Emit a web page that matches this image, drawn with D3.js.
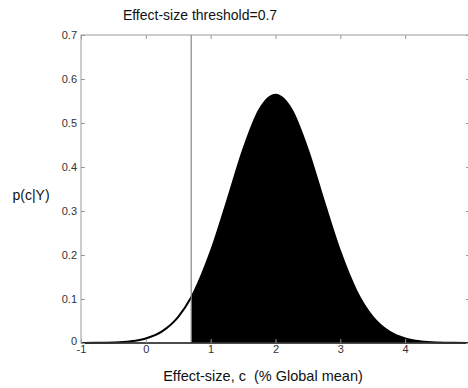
<!DOCTYPE html>
<html>
<head>
<meta charset="utf-8">
<script src="https://cdn.jsdelivr.net/npm/d3@7"></script>
<style>
  body { margin: 0; background: #fff; }
  text { font-family: "Liberation Sans", Arial, sans-serif; }
</style>
</head>
<body>
<div id="chart"></div>
<script>
// posterior density
const cValues = [-1, -0.75, -0.5, -0.25, 0, 0.25, 0.5, 0.7, 0.75, 1, 1.25, 1.5, 1.75, 2, 2.25, 2.5, 2.75, 3, 3.25, 3.5, 3.75, 4, 4.25, 4.5, 4.75, 5];
const density = [0.0001, 0.0003, 0.0011, 0.0036, 0.0103, 0.0264, 0.0594, 0.104, 0.118, 0.2075, 0.321, 0.439, 0.530, 0.564, 0.530, 0.439, 0.321, 0.2075, 0.118, 0.0594, 0.0264, 0.0103, 0.0036, 0.0011, 0.0003, 0.0001];
const threshold = 0.7;
const xTicks = [-1, 0, 1, 2, 3, 4];
const yTicks = [0, 0.1, 0.2, 0.3, 0.4, 0.5, 0.6, 0.7];

const width = 468, height = 388;
const margin = { left: 81, right: -2, top: 35, bottom: 45 };

const svg = d3.select("#chart").append("svg")
  .attr("width", width)
  .attr("height", height);

const x = d3.scaleLinear().domain([-1, 5]).range([margin.left, width - margin.right]);
const y = d3.scaleLinear().domain([0, 0.7]).range([height - margin.bottom, margin.top]);

const points = cValues.map((c, i) => ({ c, p: density[i] }));
const shaded = points.filter(d => d.c >= threshold);

// shaded tail above the threshold
svg.append("path")
  .datum(shaded)
  .attr("d", d3.area().x(d => x(d.c)).y0(y(0)).y1(d => y(d.p)).curve(d3.curveMonotoneX))
  .attr("fill", "#000");

svg.append("path")
  .datum(points)
  .attr("d", d3.line().x(d => x(d.c)).y(d => y(d.p)).curve(d3.curveMonotoneX))
  .attr("fill", "none")
  .attr("stroke", "#000")
  .attr("stroke-width", 2);

// threshold line
svg.append("line")
  .attr("x1", x(threshold)).attr("x2", x(threshold))
  .attr("y1", y(0.7)).attr("y2", y(0))
  .attr("stroke", "#888")
  .attr("stroke-width", 1.2);

// axes box
const axisColor = "#999";
svg.append("rect")
  .attr("x", x(-1)).attr("y", y(0.7))
  .attr("width", x(5) - x(-1)).attr("height", y(0) - y(0.7))
  .attr("fill", "none")
  .attr("stroke", axisColor);

svg.append("line")
  .attr("x1", x(-1)).attr("x2", x(5))
  .attr("y1", y(0)).attr("y2", y(0))
  .attr("stroke", "#222")
  .attr("stroke-width", 1.5);

const xAxis = svg.append("g")
  .attr("transform", `translate(0,${y(0)})`)
  .call(d3.axisBottom(x).tickValues(xTicks).tickSize(-4).tickPadding(2).tickFormat(d => String(d)));
const xAxisTop = svg.append("g")
  .attr("transform", `translate(0,${y(0.7)})`)
  .call(d3.axisTop(x).tickValues(xTicks).tickSize(-4).tickFormat(""));
const yAxis = svg.append("g")
  .attr("transform", `translate(${x(-1)},0)`)
  .call(d3.axisLeft(y).tickValues(yTicks).tickSize(-4).tickPadding(4).tickFormat(d => d === 0 ? "0" : d3.format(".1f")(d)));
const yAxisRight = svg.append("g")
  .attr("transform", `translate(${x(5)},0)`)
  .call(d3.axisRight(y).tickValues(yTicks).tickSize(-4).tickFormat(""));

[xAxis, xAxisTop, yAxis, yAxisRight].forEach(g => {
  g.select(".domain").remove();
  g.selectAll(".tick line").attr("stroke", axisColor);
  g.selectAll(".tick text").attr("fill", "#333").style("font-size", "11px");
});
xAxis.selectAll(".tick text").attr("dy", "0.75em");
yAxis.selectAll(".tick text").filter(d => d === 0).attr("dy", "0.1em");

// titles
svg.append("text")
  .attr("x", 200).attr("y", 20)
  .attr("text-anchor", "middle")
  .style("font-size", "14px")
  .attr("fill", "#111")
  .text("Effect-size threshold=0.7");

svg.append("text")
  .attr("x", 263).attr("y", 381)
  .attr("text-anchor", "middle")
  .style("font-size", "14.5px")
  .attr("fill", "#111")
  .style("white-space", "pre")
  .text("Effect-size, c  (% Global mean)");

svg.append("text")
  .attr("x", 31).attr("y", 200)
  .attr("text-anchor", "middle")
  .style("font-size", "14px")
  .attr("fill", "#111")
  .text("p(c|Y)");
</script>
</body>
</html>
